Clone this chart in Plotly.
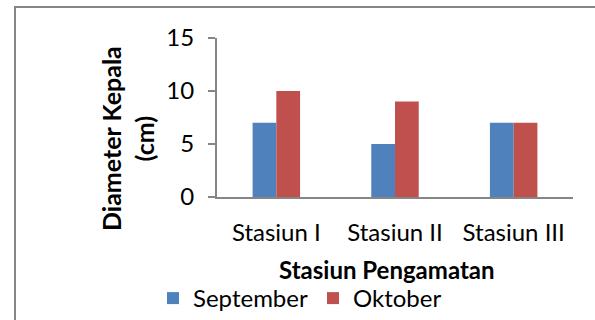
import plotly.graph_objects as go

# Observation stations and head diameter (cm) per month
stations = ["Stasiun I", "Stasiun II", "Stasiun III"]
september = [7, 5, 7]
oktober = [10, 9, 7]
y_ticks = [0, 5, 10, 15]

FONT = "Lato"
AXIS_GRAY = "#868686"

# plot-area placement in pixels
W, H = 595, 320
L, R, T, B = 217, 22, 38, 123
pw, ph = W - L - R, H - T - B


def px_x(x):
    return (x - L) / pw


def px_y(y):
    return (H - B - y) / ph


fig = go.Figure()
fig.add_trace(go.Bar(name="September", x=stations, y=september,
                     marker=dict(color="#4F81BD", line=dict(width=0))))
fig.add_trace(go.Bar(name="Oktober", x=stations, y=oktober,
                     marker=dict(color="#C0504D", line=dict(width=0))))

fig.update_layout(
    width=W, height=H,
    margin=dict(l=L, r=R, t=T, b=B, autoexpand=False),
    paper_bgcolor="white", plot_bgcolor="white",
    barmode="group", bargap=0.6, bargroupgap=0,
    font=dict(family=FONT, size=24, color="black"),
    showlegend=True,
    legend=dict(orientation="h", x=px_x(153), y=px_y(276), xanchor="left", yanchor="top",
                font=dict(family=FONT, size=24), itemsizing="constant",
                bgcolor="rgba(0,0,0,0)", tracegroupgap=0),
    xaxis=dict(showline=True, linecolor=AXIS_GRAY, linewidth=2, ticks="",
               showgrid=False, tickfont=dict(size=24), ticklabelstandoff=13,
               automargin=False),
    yaxis=dict(range=[0, 15], tickvals=y_ticks, showline=True, linecolor=AXIS_GRAY,
               linewidth=2, ticks="outside", ticklen=7, tickcolor=AXIS_GRAY, tickwidth=2,
               showgrid=False, zeroline=False, tickfont=dict(size=24),
               ticklabelstandoff=9, automargin=False),
    shapes=[dict(type="rect", xref="paper", yref="paper",
                 x0=px_x(15), y0=px_y(400), x1=px_x(700), y1=px_y(7),
                 line=dict(color=AXIS_GRAY, width=2), layer="below")],
    annotations=[
        dict(text="<b>Diameter Kepala<br>(cm)</b>", textangle=-90, showarrow=False,
             xref="paper", yref="paper", x=px_x(127), y=px_y(139),
             xanchor="center", yanchor="middle", font=dict(size=25)),
        dict(text="<b>Stasiun Pengamatan</b>", showarrow=False,
             xref="paper", yref="paper", x=px_x(387), y=px_y(269),
             xanchor="center", yanchor="middle", font=dict(size=24)),
    ],
)

fig.write_html("out.html")
